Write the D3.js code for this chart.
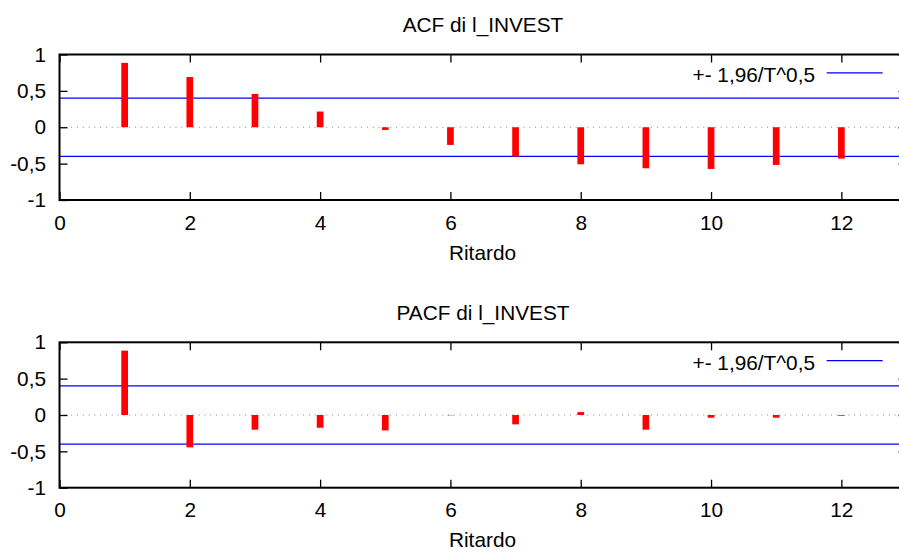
<!DOCTYPE html>
<html lang="it">
<head>
	<meta charset="UTF-8" />
	<title>ACF e PACF di l_INVEST</title>
	<script src="https://cdn.jsdelivr.net/npm/d3@7/dist/d3.min.js"></script>
	<style>
		body { margin: 0; background: #fff; }
		text { font-family: "Liberation Sans", Arial, sans-serif; fill: #000; }
	</style>
</head>
<body>
	<svg id="vis" width="899" height="552"></svg>
	<script>
		// Dati
		var lags = [1, 2, 3, 4, 5, 6, 7, 8, 9, 10, 11, 12];
		var acfValues = [0.885, 0.690, 0.458, 0.216, -0.037, -0.243, -0.403, -0.509, -0.564, -0.573, -0.518, -0.431];
		var pacfValues = [0.885, -0.445, -0.202, -0.175, -0.212, -0.004, -0.129, 0.040, -0.202, -0.037, -0.037, -0.010];
		var banda = 0.40; // 1,96/T^0,5
		var xTicks = [0, 2, 4, 6, 8, 10, 12];
		var yTicks = [-1, -0.5, 0, 0.5, 1];
		var titoli = ["ACF di l_INVEST", "PACF di l_INVEST"];
		var etichettaX = "Ritardo";
		var legenda = "+- 1,96/T^0,5";

		var svg = d3.select("#vis");
		var fmt = function(d) { return String(d).replace(".", ","); };
		var fontSize = "20.8px";

		var left = 59.5, right = 906.5;
		var scaleX = d3.scaleLinear().domain([0, 13]).range([left, right]);

		function pannello(valori, titolo, top, bottom) {
			var scaleY = d3.scaleLinear().domain([-1, 1]).range([bottom, top]);
			var g = svg.append("g");

			// Titolo
			g.append("text")
				.attr("x", (left + right) / 2)
				.attr("y", top - 22.5)
				.attr("text-anchor", "middle")
				.style("font-size", fontSize)
				.text(titolo);

			// Linea dello zero tratteggiata
			g.append("line")
				.attr("x1", left).attr("x2", right)
				.attr("y1", scaleY(0)).attr("y2", scaleY(0))
				.attr("stroke", "#888")
				.attr("stroke-width", 1.2)
				.attr("stroke-dasharray", "1,4.8");

			// Bande di confidenza
			[banda, -banda].forEach(function(b) {
				g.append("line")
					.attr("x1", left).attr("x2", right)
					.attr("y1", scaleY(b)).attr("y2", scaleY(b))
					.attr("stroke", "#0000ff")
					.attr("stroke-width", 1.3);
			});

			// Barre
			var barW = 6.7;
			g.selectAll("rect.bar")
				.data(valori)
				.enter().append("rect")
				.attr("class", "bar")
				.attr("x", function(d, i) { return scaleX(lags[i]) - barW / 2; })
				.attr("y", function(d) { return scaleY(Math.max(d, 0)); })
				.attr("width", barW)
				.attr("height", function(d) { return Math.abs(scaleY(d) - scaleY(0)); })
				.attr("fill", "#ff0000");

			// Assi
			var yAxis = d3.axisLeft(scaleY).tickValues(yTicks).tickFormat(fmt)
				.tickSize(-8).tickSizeOuter(0).tickPadding(13.5);
			var xAxis = d3.axisBottom(scaleX).tickValues(xTicks).tickFormat(fmt)
				.tickSize(-8).tickSizeOuter(0).tickPadding(15);
			var yAxisR = d3.axisRight(scaleY).tickValues(yTicks).tickFormat("")
				.tickSize(-8).tickSizeOuter(0);
			var xAxisT = d3.axisTop(scaleX).tickValues(xTicks).tickFormat("")
				.tickSize(-8).tickSizeOuter(0);

			var gy = g.append("g").attr("transform", "translate(" + left + ",0)").call(yAxis);
			var gx = g.append("g").attr("transform", "translate(0," + bottom + ")").call(xAxis);
			var gyr = g.append("g").attr("transform", "translate(" + right + ",0)").call(yAxisR);
			var gxt = g.append("g").attr("transform", "translate(0," + top + ")").call(xAxisT);
			[gy, gx, gyr, gxt].forEach(function(a) {
				a.select(".domain").remove();
				a.selectAll("line").attr("stroke", "#000").attr("stroke-width", 1.3);
				a.selectAll("text").style("font-size", fontSize).attr("fill", "#000")
					.style("font-family", "'Liberation Sans', Arial, sans-serif");
			});

			// Cornice
			g.append("rect")
				.attr("x", left).attr("y", top)
				.attr("width", right - left).attr("height", bottom - top)
				.attr("fill", "none")
				.attr("stroke", "#000")
				.attr("stroke-width", 2);

			// Etichetta asse X
			g.append("text")
				.attr("x", (left + right) / 2 - 0.5)
				.attr("y", bottom + 59.5)
				.attr("text-anchor", "middle")
				.style("font-size", fontSize)
				.text(etichettaX);

			// Legenda
			var ly = top + 18.3;
			g.append("text")
				.attr("x", 815)
				.attr("y", ly + 9)
				.attr("text-anchor", "end")
				.style("font-size", fontSize)
				.text(legenda);
			g.append("line")
				.attr("x1", 826.7).attr("x2", 882.7)
				.attr("y1", ly).attr("y2", ly)
				.attr("stroke", "#0000ff")
				.attr("stroke-width", 1.3);
		}

		pannello(acfValues, titoli[0], 54.5, 200);
		pannello(pacfValues, titoli[1], 342.3, 487.7);
	</script>
</body>
</html>
